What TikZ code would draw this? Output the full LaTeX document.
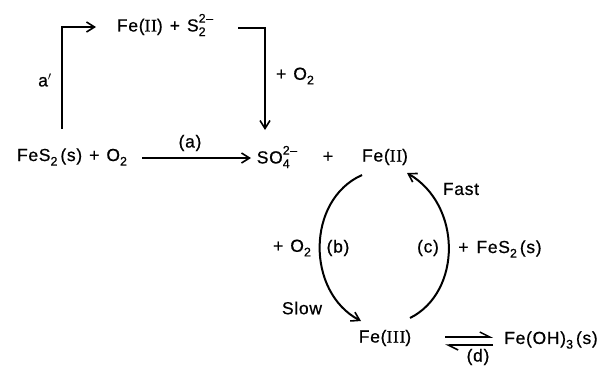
\documentclass[tikz,border=0pt]{standalone}
\usepackage{fontspec}
\setmainfont{Liberation Sans}[LetterSpace=4,FakeBold=0.6]
\newfontfamily\romfont{Liberation Serif}[LetterSpace=4,FakeBold=0.6]
\usetikzlibrary{arrows.meta}
\newcommand\lo[1]{\raisebox{-0.5ex}{\fontsize{12.5}{13}\selectfont #1}}
\newcommand\losup[2]{\rlap{\raisebox{-0.5ex}{\fontsize{12.5}{13}\selectfont #1}}\raisebox{0.95ex}{\fontsize{12.5}{13}\selectfont #2}}
\newcommand\rn[1]{{\romfont #1}}
\newcommand\pl{\hspace{0.4em}+\hspace{0.4em}}
\tikzset{
  txt/.style={inner sep=0pt, font=\fontsize{17.5}{20}\selectfont},
  conn/.style={line width=2pt, -{Straight Barb[length=8pt,width=10pt,line width=1.6pt]}},
  harp/.style={line width=1.8pt, -{Straight Barb[left,length=10pt,width=10pt,line width=1.5pt]}}
}
\begin{document}
\begin{tikzpicture}[x=1pt,y=-1pt]
\useasboundingbox (0,0) rectangle (601,368);
% text nodes
\node[txt] (top) at (165,25) {Fe(\rn{II})\pl S\losup{2}{2–}};
\node[txt] (aprime) at (45,80) {a$'$};
\node[txt] (oxtop) at (295,76) {+\hspace{0.4em}O\lo{2}};
\node[txt] (fes2) at (72,157) {FeS\lo{2}\,(s)\pl O\lo{2}};
\node[txt] (la) at (190,143) {(a)};
\node[txt] (so4) at (277,157) {SO\losup{4}{2–}};
\node[txt] (plus) at (328,157) {+};
\node[txt] (fe2) at (385,157) {Fe(\rn{II})};
\node[txt] (oxb) at (292,248) {+\hspace{0.4em}O\lo{2}};
\node[txt] (lb) at (338,248) {(b)};
\node[txt] (slow) at (302,308) {Slow};
\node[txt] (lc) at (428,248) {(c)};
\node[txt] (fes2b) at (500,249) {+\hspace{0.45em}FeS\lo{2}\,(s)};
\node[txt] (fast) at (461,189) {Fast};
\node[txt] (fe3) at (385,338) {Fe(\rn{III})};
\node[txt] (ld) at (478,357) {(d)};
\node[txt] (feoh) at (551,340) {Fe(OH)\lo{3}\,(s)};
% connector coordinates
\coordinate (aStart) at (62,129);
\coordinate (aCorner) at (62,27);
\coordinate (aEnd) at (96,27);
\coordinate (rStart) at (238,28);
\coordinate (rCorner) at (265,28);
\coordinate (rEnd) at (265,130);
\coordinate (arrA1) at (142,158);
\coordinate (arrA2) at (251,158);
\coordinate (bStart) at (362,175);
\coordinate (bEnd) at (361,321);
\coordinate (cStart) at (410,318);
\coordinate (cEnd) at (407,173);
\coordinate (d1) at (445,337);
\coordinate (d2) at (493,337);
\coordinate (d3) at (493,345);
\coordinate (d4) at (445,345);
% connectors
\draw[conn] (aStart) -- (aCorner) -- (aEnd);
\draw[conn] (rStart) -- (rCorner) -- (rEnd);
\draw[conn] (arrA1) -- (arrA2);
\draw[conn] (bStart) .. controls (306,200) and (306,292) .. (bEnd);
\draw[conn] (cStart) .. controls (462,292) and (462,205) .. (cEnd);
\draw[harp] (d1) -- (d2);
\draw[harp] (d3) -- (d4);
\end{tikzpicture}
\end{document}
